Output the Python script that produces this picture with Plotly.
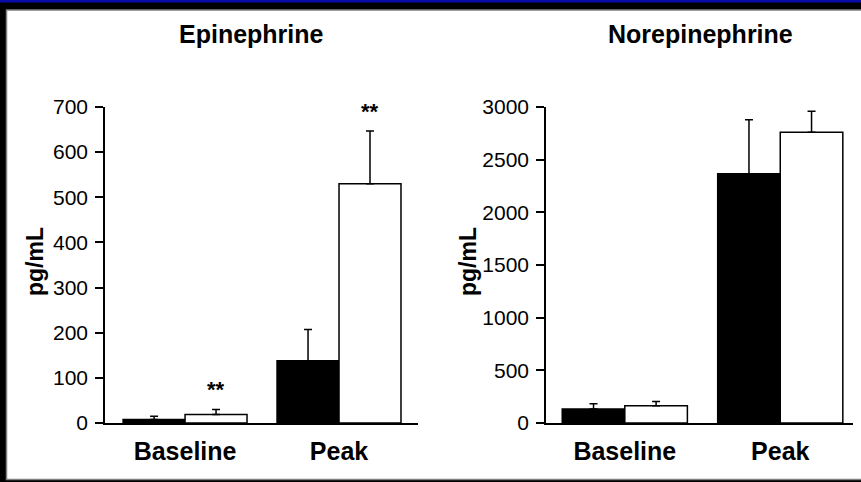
import plotly.graph_objects as go

W, H = 861, 482

# Categories and group values (mean, upward SEM)
groups = ["Baseline", "Peak"]
epi_black = [8, 138]
epi_black_err = [7, 69]
epi_white = [19, 530]
epi_white_err = [11, 117]
norepi_black = [133, 2367]
norepi_black_err = [50, 512]
norepi_white = [164, 2761]
norepi_white_err = [41, 199]
epi_ticks = [0, 100, 200, 300, 400, 500, 600, 700]
norepi_ticks = [0, 500, 1000, 1500, 2000, 2500, 3000]
epi_sig = ["**", "**"]  # marks over the white Epinephrine bars

FONT = "Liberation Sans, Arial, Helvetica, sans-serif"
xs = list(range(len(groups)))


def px_x(p):
    return p / W


def px_y(p):
    return 1 - p / H


fig = go.Figure()


def add_pair(black, black_err, white, white_err, xa, ya):
    fig.add_trace(go.Bar(
        x=xs, y=black, xaxis=xa, yaxis=ya,
        marker=dict(color="black", line=dict(color="black", width=1.5)),
        error_y=dict(type="data", symmetric=False, array=black_err,
                     arrayminus=[0] * len(black), color="black",
                     thickness=1.5, width=4),
        showlegend=False, hoverinfo="skip",
    ))
    fig.add_trace(go.Bar(
        x=xs, y=white, xaxis=xa, yaxis=ya,
        marker=dict(color="white", line=dict(color="black", width=1.5)),
        error_y=dict(type="data", symmetric=False, array=white_err,
                     arrayminus=[0] * len(white), color="black",
                     thickness=1.5, width=4),
        showlegend=False, hoverinfo="skip",
    ))


add_pair(epi_black, epi_black_err, epi_white, epi_white_err, "x", "y")
add_pair(norepi_black, norepi_black_err, norepi_white, norepi_white_err, "x2", "y2")

ydom = [px_y(423), px_y(107)]
axis_common = dict(showgrid=False, zeroline=False, showline=True,
                   linecolor="black", linewidth=1.5, automargin=False)
xcat = dict(tickvals=xs, ticktext=groups, ticks="", ticklabelstandoff=5,
            tickfont=dict(size=25, weight="bold"))
yval = dict(ticks="outside", ticklen=8, tickwidth=1.5, tickcolor="black",
            ticklabelstandoff=3, tickfont=dict(size=21))

fig.update_layout(
    template="none",
    width=W, height=H,
    margin=dict(l=0, r=0, t=0, b=0, pad=0),
    paper_bgcolor="black",
    plot_bgcolor="rgba(0,0,0,0)",
    barmode="group", bargap=0.195, bargroupgap=0,
    font=dict(family=FONT, color="black"),
    xaxis=dict(domain=[px_x(105), px_x(418)], range=[-0.52, 1.513],
               anchor="y", **xcat, **axis_common),
    yaxis=dict(domain=ydom, range=[0, 700], tickvals=epi_ticks,
               anchor="x", **yval, **axis_common),
    xaxis2=dict(domain=[px_x(546), px_x(853)], range=[-0.507, 1.468],
                anchor="y2", **xcat, **axis_common),
    yaxis2=dict(domain=ydom, range=[0, 3000], tickvals=norepi_ticks,
                anchor="x2", **yval, **axis_common),
)

# Frame: white panel inside a black border with a blue strip along the top
fig.add_shape(type="rect", xref="paper", yref="paper",
              x0=px_x(6.5), x1=px_x(870), y0=px_y(479.5), y1=px_y(10),
              fillcolor="white", line=dict(color="#808080", width=1.5), layer="below")
fig.add_shape(type="rect", xref="paper", yref="paper",
              x0=0, x1=1, y0=px_y(2.5), y1=1,
              fillcolor="#0a0aa6", line=dict(width=0), layer="below")

# Panel titles
for text, cx in [("Epinephrine", 251), ("Norepinephrine", 700)]:
    fig.add_annotation(text=text, xref="paper", yref="paper",
                       x=px_x(cx), y=px_y(34), xanchor="center", yanchor="middle",
                       showarrow=False,
                       font=dict(size=25, weight="bold", family=FONT))

# Y axis titles
for cx in [35, 468]:
    fig.add_annotation(text="pg/mL", xref="paper", yref="paper",
                       x=px_x(cx), y=px_y(262), xanchor="center", yanchor="middle",
                       showarrow=False, textangle=-90,
                       font=dict(size=23, weight="bold", family=FONT))

# Significance marks above the white Epinephrine bars
for i, mark in enumerate(epi_sig):
    if mark:
        fig.add_annotation(text=mark, xref="x", yref="y",
                           x=xs[i] + 0.2, y=epi_white[i] + epi_white_err[i],
                           xanchor="center", yanchor="bottom", yshift=5,
                           showarrow=False,
                           font=dict(size=22, weight="bold", family=FONT))

fig.write_html("out.html")
